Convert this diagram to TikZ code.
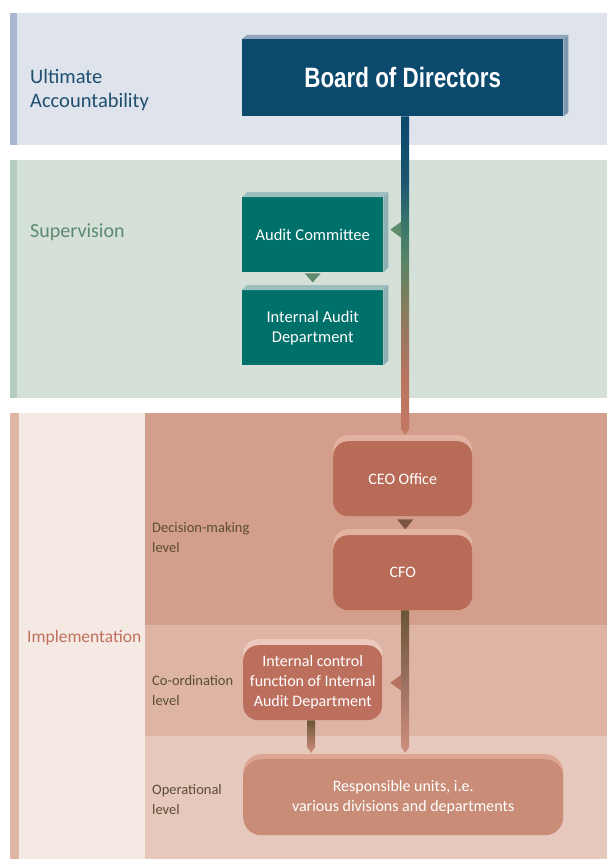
\documentclass[tikz,border=0pt]{standalone}
\usepackage{fontspec}
\setmainfont{Carlito}
\newfontfamily\bodfont[FakeStretch=0.8]{Liberation Sans}
\usetikzlibrary{calc}
\definecolor{bandA}{HTML}{DFE3EC}
\definecolor{stripA}{HTML}{A6B7CF}
\definecolor{bandB}{HTML}{D5E0D9}
\definecolor{stripB}{HTML}{B3CCBE}
\definecolor{implLight}{HTML}{F5E9E4}
\definecolor{stripC}{HTML}{DFB5A6}
\definecolor{decB}{HTML}{D39E8B}
\definecolor{coB}{HTML}{DEB4A4}
\definecolor{opB}{HTML}{E6C8BC}
\definecolor{bodC}{HTML}{0B496D}
\definecolor{bodFace}{HTML}{8EA5BB}
\definecolor{bodSide}{HTML}{7F98B0}
\definecolor{tealC}{HTML}{00706B}
\definecolor{tealFace}{HTML}{9DBFC0}
\definecolor{tealSide}{HTML}{8DB0B3}
\definecolor{ceoC}{HTML}{B86B56}
\definecolor{ceoHi}{HTML}{E2B3A2}
\definecolor{icC}{HTML}{BD6F5E}
\definecolor{icHi}{HTML}{EBCABD}
\definecolor{respC}{HTML}{C98C77}
\definecolor{respHi}{HTML}{DCA693}
\definecolor{ultC}{HTML}{1F4F6F}
\definecolor{supC}{HTML}{5C8A6D}
\definecolor{impC}{HTML}{C0705C}
\definecolor{lvlC}{HTML}{5A4E33}
\definecolor{triG}{HTML}{5E8B6C}
\definecolor{triB}{HTML}{7A5242}
\definecolor{triS}{HTML}{B5725F}
\definecolor{mlA}{HTML}{C47862}
\definecolor{mlB}{HTML}{B97560}
\definecolor{mlC}{HTML}{9E7660}
\definecolor{mlD}{HTML}{7E7E5E}
\definecolor{mlE}{HTML}{5A8466}
\definecolor{mlF}{HTML}{3F7A6A}
\definecolor{mlG}{HTML}{1C5570}
\definecolor{mlH}{HTML}{0D4A6C}
\definecolor{lnTop}{HTML}{6A5636}
\definecolor{lnMid}{HTML}{9A7060}
\definecolor{lnBot}{HTML}{D08E7D}
\pgfdeclareverticalshading{mainline}{100bp}{color(0bp)=(mlA); color(25bp)=(mlA); color(33.6bp)=(mlB); color(39.8bp)=(mlC); color(46.1bp)=(mlD); color(52.3bp)=(mlE); color(57bp)=(mlF); color(64.8bp)=(mlG); color(72.7bp)=(mlH); color(75bp)=(bodC); color(100bp)=(bodC)}
\pgfdeclareverticalshading{lowline}{100bp}{color(0bp)=(lnBot); color(25bp)=(lnBot); color(50bp)=(lnMid); color(75bp)=(lnTop); color(100bp)=(lnTop)}
\begin{document}
\begin{tikzpicture}[x=1pt,y=-1pt,
  sqbox/.style={anchor=north west, inner sep=0pt, text=white, align=center},
  rbox/.style={anchor=north west, inner sep=0pt, text=white, align=center,
    rounded corners=15pt, font=\fontsize{16}{20}\selectfont},
  lbl/.style={anchor=west, inner sep=0pt, align=left},
  lvl/.style={lbl, text=lvlC, font=\fontsize{14.5}{20}\selectfont},
]
\useasboundingbox (0,0) rectangle (607,859);
\fill[white] (0,0) rectangle (607,859);
% bands
\fill[bandA] (10,13) rectangle (607,145);
\fill[stripA] (10,13) rectangle (17,145);
\fill[bandB] (10,160) rectangle (607,398);
\fill[stripB] (10,160) rectangle (17,398);
\fill[implLight] (10,413) rectangle (607,859);
\fill[stripC] (10,413) rectangle (19,859);
\fill[decB] (145,413) rectangle (607,625);
\fill[coB] (145,625) rectangle (607,736);
\fill[opB] (145,736) rectangle (607,859);
% labels
\node[lbl, text=ultC, font=\fontsize{20.5}{24}\selectfont] (ult) at (30,90) {Ultimate\\Accountability};
\node[lbl, text=supC, font=\fontsize{20}{24}\selectfont] (sup) at (30,232) {Supervision};
\node[lbl, text=impC, font=\fontsize{17.5}{24}\selectfont] (imp) at (27,638) {Implementation};
\node[lvl] (dec) at (152,538) {Decision-making\\level};
\node[lvl] (coo) at (152,691) {Co-ordination\\level};
\node[lvl] (ope) at (152,800) {Operational\\level};
% board
\node[sqbox, fill=bodC, minimum width=321pt, minimum height=77pt,
  font=\bodfont\bfseries\fontsize{28}{30}\selectfont] (bod) at (242,39) {Board of Directors};
\fill[bodFace] (bod.north west) -- ([xshift=5pt,yshift=4pt]bod.north west) -- ([xshift=5pt,yshift=4pt]bod.north east) -- (bod.north east) -- cycle;
\fill[bodSide] (bod.north east) -- ([xshift=5pt,yshift=4pt]bod.north east) -- ([xshift=5pt,yshift=4pt]bod.south east) -- (bod.south east) -- cycle;
% supervision boxes
\node[sqbox, fill=tealC, minimum width=141pt, minimum height=75pt,
  font=\fontsize{16.5}{20}\selectfont] (ac) at (242,197) {Audit Committee};
\node[sqbox, fill=tealC, minimum width=141pt, minimum height=75pt,
  font=\fontsize{16.5}{20}\selectfont] (iad) at (242,290) {Internal Audit\\Department};
\foreach \n in {ac,iad}{
  \fill[tealFace] (\n.north west) -- ([xshift=5pt,yshift=5pt]\n.north west) -- ([xshift=5pt,yshift=5pt]\n.north east) -- (\n.north east) -- cycle;
  \fill[tealSide] (\n.north east) -- ([xshift=5pt,yshift=5pt]\n.north east) -- ([xshift=5pt,yshift=5pt]\n.south east) -- (\n.south east) -- cycle;
}
% implementation boxes
\node[rbox, fill=ceoC, preaction={fill=ceoHi, transform canvas={yshift=6pt}},
  minimum width=139pt, minimum height=75pt] (ceo) at (333,441) {CEO Office};
\node[rbox, fill=ceoC, preaction={fill=ceoHi, transform canvas={yshift=6pt}},
  minimum width=139pt, minimum height=75pt] (cfo) at (333,535) {CFO};
\node[rbox, fill=icC, preaction={fill=icHi, transform canvas={yshift=6pt}},
  minimum width=139pt, minimum height=75pt] (ic) at (243,645) {Internal control\\function of Internal\\Audit Department};
\node[rbox, fill=respC, preaction={fill=respHi, transform canvas={yshift=5pt}},
  rounded corners=18pt, minimum width=320pt, minimum height=76pt] (resp) at (243,759) {Responsible units, i.e.\\various divisions and departments};
% main connector board -> CEO
\coordinate (m0) at ($(bod.south)+(2.5,0)$);
\coordinate (m1) at ($(ceo.north)+(2.5,-6)$);
\path[shading=mainline] ($(m0)+(-4,0)$) -- ($(m0)+(4,0)$) -- ($(m1)+(4,-6)$) -- (m1) -- ($(m1)+(-4,-6)$) -- cycle;
\coordinate (ta) at ($(m0 |- ac.east)+(0,-5)$);
\fill[triG] ($(ta)+(-4,-8)$) -- ($(ta)+(-4,8)$) -- ($(ta)+(-15,0)$) -- cycle;
% audit committee -> internal audit
\fill[triG] ($(ac.south)+(-8,1)$) -- ($(ac.south)+(8,1)$) -- ($(ac.south)+(0,10)$) -- cycle;
% CEO -> CFO
\fill[triB] ($(ceo.south)+(-5.5,3)$) -- ($(ceo.south)+(10.5,3)$) -- ($(ceo.south)+(2.5,13)$) -- cycle;
% CFO -> responsible units
\coordinate (c0) at ($(cfo.south)+(2.5,0)$);
\coordinate (c1) at ($(c0 |- resp.north)+(0,-6)$);
\path[shading=lowline] ($(c0)+(-4,0)$) -- ($(c0)+(4,0)$) -- ($(c1)+(4,-6)$) -- (c1) -- ($(c1)+(-4,-6)$) -- cycle;
\coordinate (tb) at (c0 |- ic.east);
\fill[triS] ($(tb)+(-4,-8)$) -- ($(tb)+(-4,8)$) -- ($(tb)+(-15,0)$) -- cycle;
% internal control -> responsible units
\coordinate (i0) at ($(ic.south)+(-1.5,0)$);
\coordinate (i1) at ($(i0 |- resp.north)+(0,-6)$);
\path[top color=lnTop, bottom color=lnBot] ($(i0)+(-4,0)$) -- ($(i0)+(4,0)$) -- ($(i1)+(4,-6)$) -- (i1) -- ($(i1)+(-4,-6)$) -- cycle;
\end{tikzpicture}
\end{document}
